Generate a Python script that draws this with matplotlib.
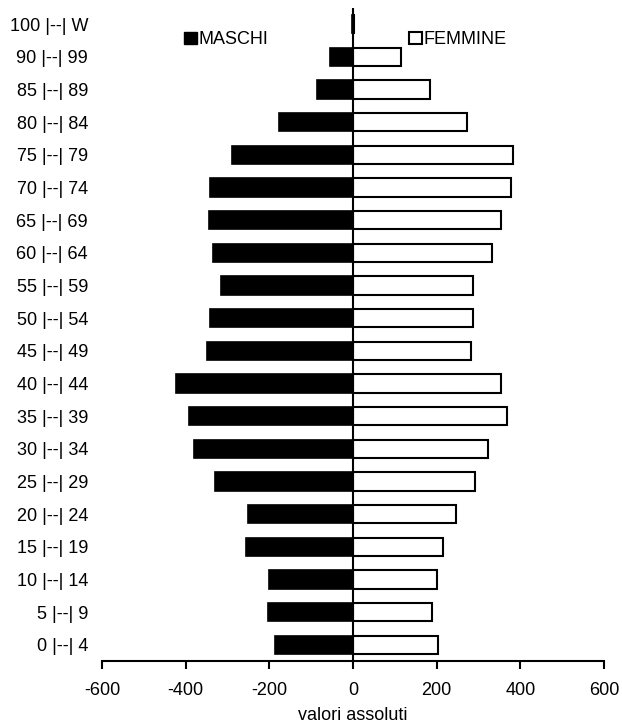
import matplotlib
matplotlib.use("Agg")
import matplotlib.pyplot as plt
from matplotlib.patches import Patch

plt.rcParams['font.family'] = ['Liberation Sans', 'DejaVu Sans']

categories = ["0 |--| 4", "5 |--| 9", "10 |--| 14", "15 |--| 19", "20 |--| 24",
              "25 |--| 29", "30 |--| 34", "35 |--| 39", "40 |--| 44", "45 |--| 49",
              "50 |--| 54", "55 |--| 59", "60 |--| 64", "65 |--| 69", "70 |--| 74",
              "75 |--| 79", "80 |--| 84", "85 |--| 89", "90 |--| 99", "100 |--| W"]
maschi = [186, 203, 201, 256, 251, 329, 379, 392, 422, 350,
          341, 315, 334, 344, 343, 289, 178, 87, 55, 2]
femmine = [204, 188, 201, 214, 247, 291, 323, 369, 354, 282,
           288, 288, 333, 354, 377, 383, 273, 185, 114, 2]
xticks = [-600, -400, -200, 0, 200, 400, 600]

FS = 13

fig = plt.figure(figsize=(6.22, 7.24), dpi=100)
ax = fig.add_axes([0.164, 0.087, 0.807, 0.902])

y = list(range(len(categories)))
ax.barh(y, [-v for v in maschi], height=0.56, color='black', edgecolor='black', linewidth=1.2)
ax.barh(y, femmine, height=0.56, color='white', edgecolor='black', linewidth=1.5)
ax.axvline(0, color='black', lw=1.5)

ax.set_xlim(-600, 600)
ax.set_ylim(-0.5, 19.5)
ax.set_xticks(xticks)
ax.set_xticklabels([str(t) for t in xticks], fontsize=FS)
ax.set_yticks(y)
ax.set_yticklabels(categories, fontsize=FS)
ax.tick_params(axis='y', length=0, pad=10)
ax.tick_params(axis='x', direction='out', length=6, width=1.5, pad=9)
for s in ['left', 'top', 'right']:
    ax.spines[s].set_visible(False)
ax.spines['bottom'].set_linewidth(1.5)
ax.set_xlabel("valori assoluti", fontsize=FS, labelpad=6)

handles = [Patch(facecolor='black', edgecolor='black', label='MASCHI'),
           Patch(facecolor='white', edgecolor='black', linewidth=1.5, label='FEMMINE')]
ax.legend(handles=handles, ncol=2, frameon=False, fontsize=FS,
          handlelength=0.7, handleheight=0.7, handletextpad=0.1,
          columnspacing=7.8, loc='center', bbox_to_anchor=(0.485, 0.951),
          borderaxespad=0, borderpad=0)

fig.savefig("out.png", dpi=100)
